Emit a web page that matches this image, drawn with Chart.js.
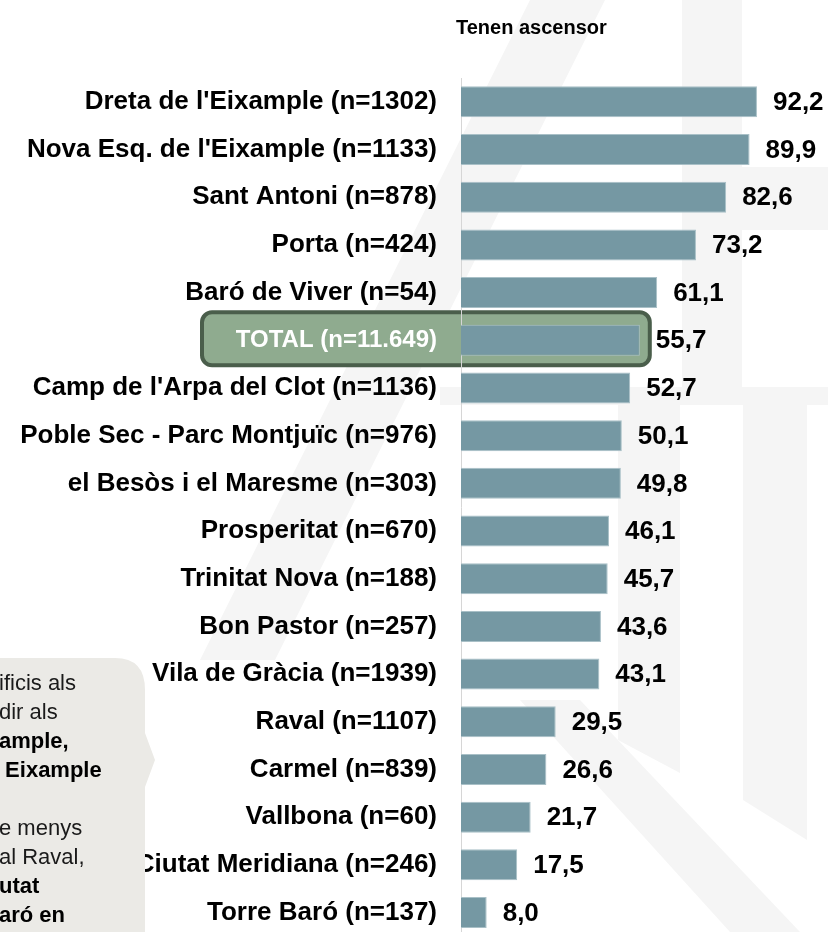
<!DOCTYPE html>
<html>
<head>
<meta charset="utf-8">
<script src="https://cdn.jsdelivr.net/npm/chart.js@4/dist/chart.umd.min.js"></script>
<style>
  html, body { margin: 0; padding: 0; background: #fff; overflow: hidden; }
  body { width: 828px; height: 932px; position: relative; font-family: "Liberation Sans", Arial, sans-serif; }
  #chart { position: absolute; left: 0; top: 0; }
  #title { position: absolute; top: 16px; left: 456px; font-weight: bold; font-size: 20px; color: #000; }
  #note { position: absolute; left: 0; top: 0; width: 170px; height: 932px; }
  #note .txt { position: absolute; left: -1px; font-size: 22px; color: #1a1a1a; white-space: nowrap; line-height: 29px; }
  #note .b { font-weight: bold; color: #000; }
</style>
</head>
<body>
<!-- canvas taller than the window: the y scale keeps half a label + padding below the last row -->
<canvas id="chart" width="828" height="976"></canvas>
<svg id="note-bg" width="170" height="932" style="position:absolute;left:0;top:0">
  <path d="M -20 658 L 115 658 Q 145 658 145 690 L 145 733 L 155 760 L 145 787 L 145 960 L -20 960 Z" fill="#ebeae6"/>
</svg>
<div id="note">
  <div class="txt" style="top:668px">ificis als</div>
  <div class="txt" style="top:697px">dir als</div>
  <div class="txt b" style="top:726px">ample,</div>
  <div class="txt b" style="top:755px">&nbsp;Eixample</div>
  <div class="txt" style="top:813px">e menys</div>
  <div class="txt" style="top:842px">al Raval,</div>
  <div class="txt b" style="top:871px">utat</div>
  <div class="txt b" style="top:900px">aró en</div>
</div>
<div id="title">Tenen ascensor</div>
<script>
const barris = [
  "Dreta de l'Eixample (n=1302)",
  "Nova Esq. de l'Eixample (n=1133)",
  "Sant Antoni (n=878)",
  "Porta (n=424)",
  "Baró de Viver (n=54)",
  "TOTAL (n=11.649)",
  "Camp de l'Arpa del Clot (n=1136)",
  "Poble Sec - Parc Montjuïc (n=976)",
  "el Besòs i el Maresme (n=303)",
  "Prosperitat (n=670)",
  "Trinitat Nova (n=188)",
  "Bon Pastor (n=257)",
  "Vila de Gràcia (n=1939)",
  "Raval (n=1107)",
  "Carmel (n=839)",
  "Vallbona (n=60)",
  "Ciutat Meridiana (n=246)",
  "Torre Baró (n=137)"
];
const ascensor = [92.2, 89.9, 82.6, 73.2, 61.1, 55.7, 52.7, 50.1, 49.8, 46.1, 45.7, 43.6, 43.1, 29.5, 26.6, 21.7, 17.5, 8.0];
const totalIndex = 5;

const FONT = "'Liberation Sans', Arial, sans-serif";

// faint logo in the background + the highlighted TOTAL box
const fons = {
  id: "fons",
  beforeDraw(chart) {
    const ctx = chart.ctx;
    ctx.save();
    ctx.fillStyle = "#f5f5f5";
    const polys = [
      [[530, 0], [605, 0], [275, 660], [200, 660]],
      [[682, 0], [742, 0], [742, 387], [682, 387]],
      [[742, 167], [828, 167], [828, 230], [742, 230]],
      [[440, 387], [828, 387], [828, 405], [440, 405]],
      [[618, 405], [680, 405], [680, 773], [618, 740]],
      [[743, 405], [807, 405], [807, 840], [743, 800]],
      [[520, 700], [580, 700], [800, 932], [730, 932]]
    ];
    polys.forEach(p => {
      ctx.beginPath();
      ctx.moveTo(p[0][0], p[0][1]);
      p.slice(1).forEach(pt => ctx.lineTo(pt[0], pt[1]));
      ctx.closePath();
      ctx.fill();
    });

    const y = chart.scales.y.getPixelForValue(totalIndex);
    const xr = chart.scales.x.getPixelForValue(ascensor[totalIndex]) + 10;
    ctx.beginPath();
    ctx.roundRect(202, y - 28, xr - 202, 53, 10);
    ctx.fillStyle = "#8fab8f";
    ctx.fill();
    ctx.lineWidth = 4;
    ctx.strokeStyle = "#4a5e4b";
    ctx.stroke();
    ctx.restore();
  }
};

const valors = {
  id: "valors",
  afterDatasetsDraw(chart) {
    const ctx = chart.ctx;
    const meta = chart.getDatasetMeta(0);
    ctx.save();
    ctx.font = "bold 26px " + FONT;
    ctx.fillStyle = "#000";
    ctx.textBaseline = "middle";
    meta.data.forEach((bar, i) => {
      ctx.fillText(ascensor[i].toFixed(1).replace(".", ","), bar.x + 16, bar.y + 1);
    });
    ctx.restore();
  }
};

new Chart(document.getElementById("chart"), {
  type: "bar",
  data: {
    labels: barris,
    datasets: [{
      data: ascensor,
      backgroundColor: "#7598a3",
      borderColor: "#a9c0c7",
      borderWidth: 1,
      barPercentage: 0.65,
      categoryPercentage: 1
    }]
  },
  options: {
    indexAxis: "y",
    responsive: false,
    animation: false,
    layout: { padding: { top: 78, right: 46, left: 0, bottom: 0 } },
    plugins: {
      legend: { display: false },
      tooltip: { enabled: false }
    },
    scales: {
      x: {
        display: false,
        min: 0,
        max: 100
      },
      y: {
        afterFit(scale) { scale.width = 461; },
        grid: { display: false, drawTicks: false },
        border: { display: true, color: "#d6d6d6", width: 1 },
        ticks: {
          padding: 24,
          color: ctx => ctx.index === totalIndex ? "#ffffff" : "#000000",
          font: ctx => ({
            family: FONT,
            weight: "bold",
            size: ctx.index === totalIndex ? 24 : 26
          })
        }
      }
    }
  },
  plugins: [fons, valors]
});
</script>
</body>
</html>
